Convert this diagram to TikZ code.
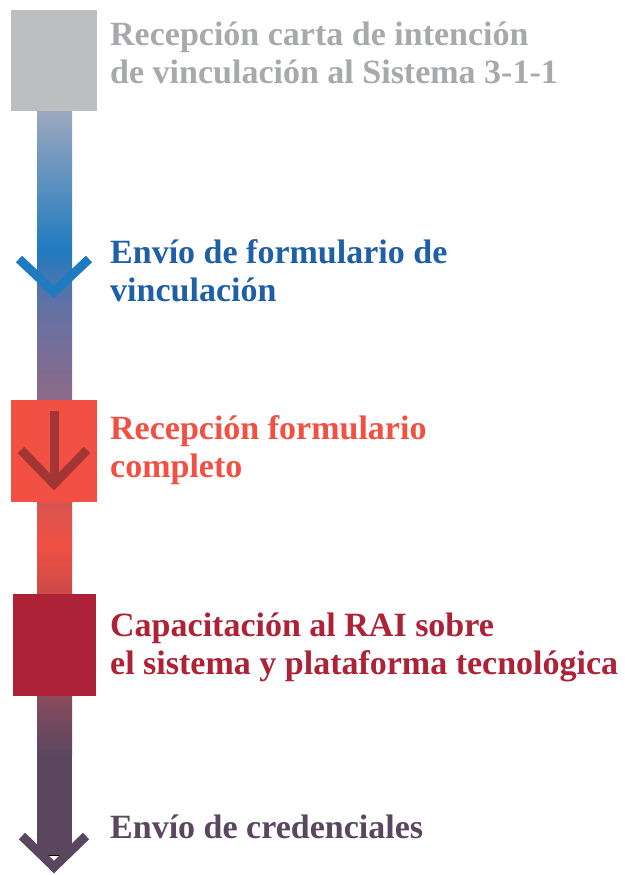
\documentclass[tikz,border=0pt]{standalone}
\usepackage{fontspec}
\setmainfont{Liberation Serif}
\definecolor{cgray}{HTML}{BCBEC0}
\definecolor{tgray}{HTML}{A7A9AC}
\definecolor{cblue}{HTML}{1F7BC0}
\definecolor{tblue}{HTML}{1F5FA6}
\definecolor{corange}{HTML}{F15043}
\definecolor{cdarkred}{HTML}{A33535}
\definecolor{ccrimson}{HTML}{AD2237}
\definecolor{cpurple}{HTML}{5B4660}
\definecolor{gtop}{HTML}{9EA8BE}
\definecolor{gmid}{HTML}{5F72A7}
\definecolor{gmauve}{HTML}{8E6A88}
\definecolor{gred1}{HTML}{D6554F}
\definecolor{gred2}{HTML}{CB4A48}
\definecolor{gplum}{HTML}{8A4B5C}
\tikzset{
  stepsq/.style={draw=none,fill=#1},
  steptext/.style={anchor=base west,inner sep=0pt,align=left,text=#1,
    font=\fontsize{34}{38}\selectfont\bfseries},
  chev/.style={draw=#1,line width=9pt,miter limit=10,line join=miter}
}
\begin{document}
\begin{tikzpicture}[x=1pt,y=-1pt]
\useasboundingbox (0,0) rectangle (624,875);
% gradient bar
\shade[top color=gtop,bottom color=cblue] (37,110) rectangle (72,250.5);
\shade[top color=cblue,bottom color=gmid] (37,250) rectangle (72,300.5);
\shade[top color=gmid,bottom color=gmauve] (37,300) rectangle (72,401);
\shade[top color=gred1,bottom color=corange] (37,501) rectangle (72,545.5);
\shade[top color=corange,bottom color=gred2] (37,545) rectangle (72,595);
\shade[top color=gplum,bottom color=cpurple] (37,695) rectangle (72,755.5);
\fill[cpurple] (37,755) rectangle (72,855);
% squares
\node[stepsq=cgray,minimum width=86pt,minimum height=101pt] (s1) at (54,60.5) {};
\node[stepsq=corange,minimum width=86pt,minimum height=102pt] (s3) at (54,451) {};
\node[stepsq=ccrimson,minimum width=83pt,minimum height=102pt] (s4) at (54.5,645) {};
% blue chevron
\coordinate (c2l) at (19,259);
\coordinate (c2v) at (54,292);
\coordinate (c2r) at (89,259);
\draw[chev=cblue] (c2l) -- (c2v) -- (c2r);
% arrow in red square
\coordinate (a3t) at (54,411);
\coordinate (a3l) at (21,450);
\coordinate (a3v) at (54,484);
\coordinate (a3r) at (87,450);
\draw[draw=cdarkred,line width=9pt] (a3t) -- (54,486);
\draw[chev=cdarkred] (a3l) -- (a3v) -- (a3r);
% bottom arrow
\coordinate (b5l) at (22,836);
\coordinate (b5v) at (54,867);
\coordinate (b5r) at (86,836);
\fill[white] (43,855.5) -- (65,855.5) -- (54,867) -- cycle;
\draw[black,line width=0.8pt] (43,855.5) -- (64,855.5);
\draw[chev=cpurple] (b5l) -- (b5v) -- (b5r);
% texts (anchor = baseline of last line)
\node[steptext=tgray] (t1) at (110,83) {Recepción carta de intención\\de vinculación al Sistema 3-1-1};
\node[steptext=tblue] (t2) at (110,301) {Envío de formulario de\\vinculación};
\node[steptext=corange] (t3) at (110,477) {Recepción formulario\\completo};
\node[steptext=ccrimson] (t4) at (110,674) {Capacitación al RAI sobre\\el sistema y plataforma tecnológica};
\node[steptext=cpurple] (t5) at (110,838) {Envío de credenciales};
\end{tikzpicture}
\end{document}
